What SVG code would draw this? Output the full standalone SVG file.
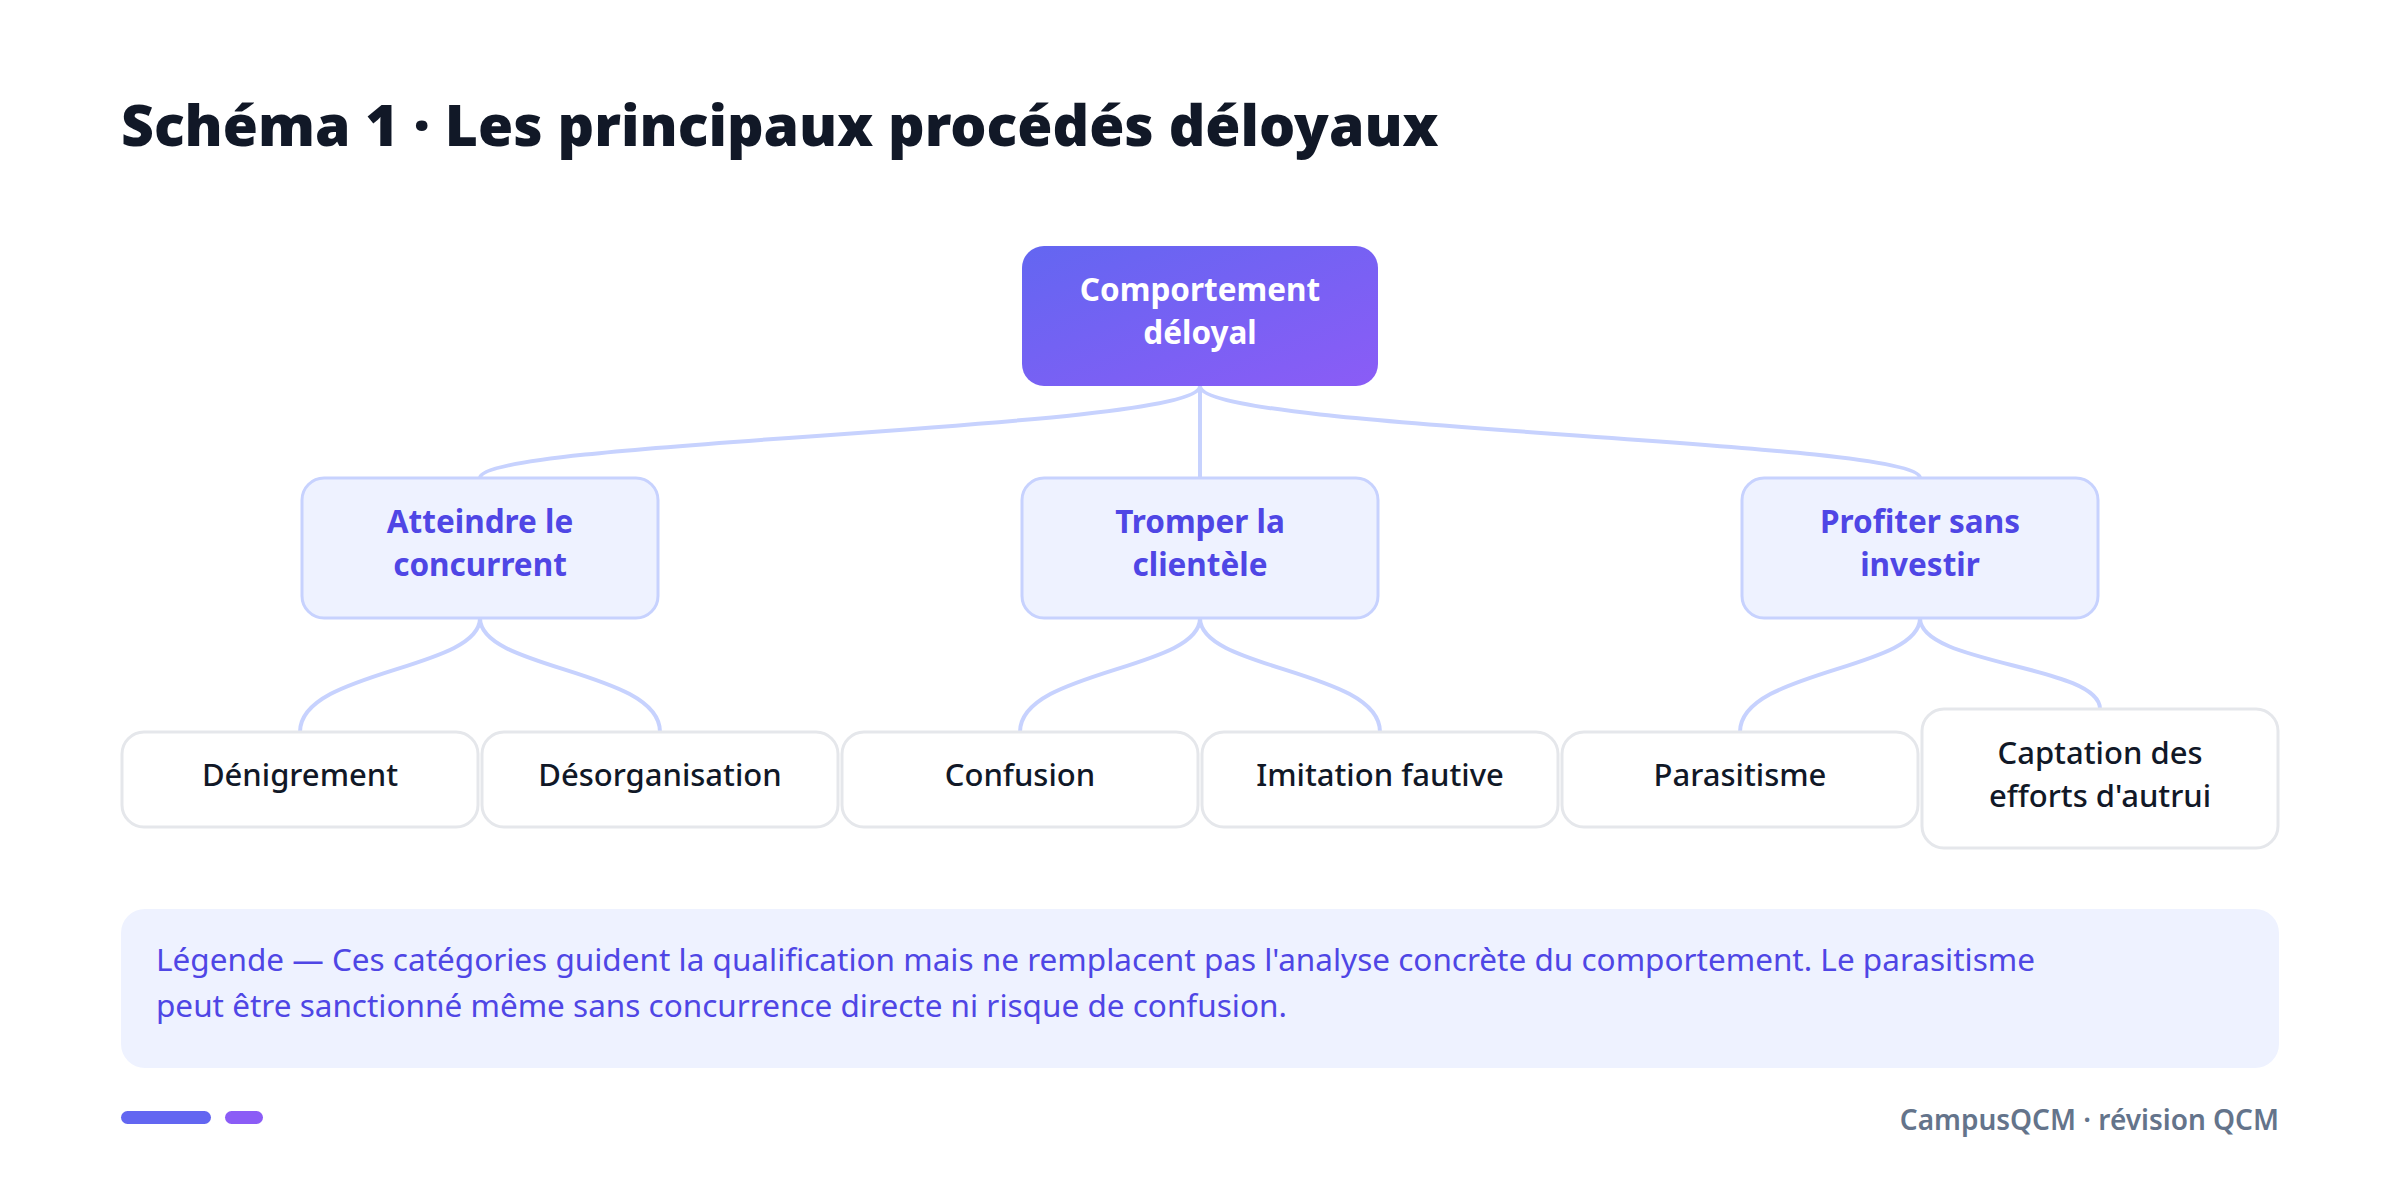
<svg xmlns="http://www.w3.org/2000/svg" width="2400" height="1178" viewBox="0 0 2400 1178">
<defs>
<linearGradient id="g" x1="0" y1="0" x2="1" y2="1"><stop offset="0" stop-color="#6366f1"/><stop offset="1" stop-color="#8b5cf6"/></linearGradient>
<style>
.t{font-family:"Noto Sans","Open Sans",sans-serif}
.l2{fill:#eef2ff;stroke:#c7d2fe;stroke-width:3}
.lf{fill:#fff;stroke:#e5e7eb;stroke-width:3}
.l2t{font-family:"Noto Sans","Open Sans",sans-serif;font-weight:700;font-size:31.5px;fill:#4f46e5;text-anchor:middle}
.lft{font-family:"Noto Sans","Open Sans",sans-serif;font-weight:500;font-size:31px;fill:#111827;text-anchor:middle}
.c{fill:none;stroke:#c7d2fe;stroke-width:4}
</style>
</defs>
<rect width="2400" height="1178" fill="#fff"/>
<text x="121" y="146" class="t" font-size="57" font-weight="900" fill="#111827">Schéma 1 · Les principaux procédés déloyaux</text>
<g id="connectors">
<path class="c" d="M1200 386 C1200 430 480 440 480 478"/>
<path class="c" d="M1200 386 L1200 478"/>
<path class="c" d="M1200 386 C1200 430 1920 440 1920 478"/>
<path class="c" d="M480 618 C480 670 300 670 300 732"/>
<path class="c" d="M480 618 C480 670 660 670 660 732"/>
<path class="c" d="M1200 618 C1200 670 1020 670 1020 732"/>
<path class="c" d="M1200 618 C1200 670 1380 670 1380 732"/>
<path class="c" d="M1920 618 C1920 670 1740 670 1740 732"/>
<path class="c" d="M1920 618 C1920 665 2100 665 2100 709"/>
</g>
<g id="root"><rect x="1022" y="246" width="356" height="140" rx="22" fill="url(#g)"/>
<text x="1200" y="301" class="l2t" style="fill:#fff">Comportement</text><text x="1200" y="344" class="l2t" style="fill:#fff">déloyal</text></g>
<g id="n1"><rect class="l2" x="302" y="478" width="356" height="140" rx="22"/><text x="480" y="533" class="l2t">Atteindre le</text><text x="480" y="576" class="l2t">concurrent</text></g>
<g id="n2"><rect class="l2" x="1022" y="478" width="356" height="140" rx="22"/><text x="1200" y="533" class="l2t">Tromper la</text><text x="1200" y="576" class="l2t">clientèle</text></g>
<g id="n3"><rect class="l2" x="1742" y="478" width="356" height="140" rx="22"/><text x="1920" y="533" class="l2t">Profiter sans</text><text x="1920" y="576" class="l2t">investir</text></g>
<g id="f1"><rect class="lf" x="122" y="732" width="356" height="95" rx="22"/><text x="300" y="786" class="lft">Dénigrement</text></g>
<g id="f2"><rect class="lf" x="482" y="732" width="356" height="95" rx="22"/><text x="660" y="786" class="lft">Désorganisation</text></g>
<g id="f3"><rect class="lf" x="842" y="732" width="356" height="95" rx="22"/><text x="1020" y="786" class="lft">Confusion</text></g>
<g id="f4"><rect class="lf" x="1202" y="732" width="356" height="95" rx="22"/><text x="1380" y="786" class="lft">Imitation fautive</text></g>
<g id="f5"><rect class="lf" x="1562" y="732" width="356" height="95" rx="22"/><text x="1740" y="786" class="lft">Parasitisme</text></g>
<g id="f6"><rect class="lf" x="1922" y="709" width="356" height="139" rx="22"/><text x="2100" y="764" class="lft">Captation des</text><text x="2100" y="807" class="lft">efforts d'autrui</text></g>
<g id="legend"><rect x="121" y="909" width="2158" height="159" rx="24" fill="#eef2ff"/>
<text x="156" y="971" class="t" font-size="31.5" fill="#4f46e5">Légende — Ces catégories guident la qualification mais ne remplacent pas l'analyse concrète du comportement. Le parasitisme</text>
<text x="156" y="1017" class="t" font-size="31.5" fill="#4f46e5">peut être sanctionné même sans concurrence directe ni risque de confusion.</text></g>
<rect x="121" y="1111" width="90" height="13" rx="6.5" fill="#6366f1"/>
<rect x="225" y="1111" width="38" height="13" rx="6.5" fill="#8b5cf6"/>
<text x="2279" y="1130" class="t" font-size="28" font-weight="600" fill="#64748b" text-anchor="end">CampusQCM · révision QCM</text>
</svg>
